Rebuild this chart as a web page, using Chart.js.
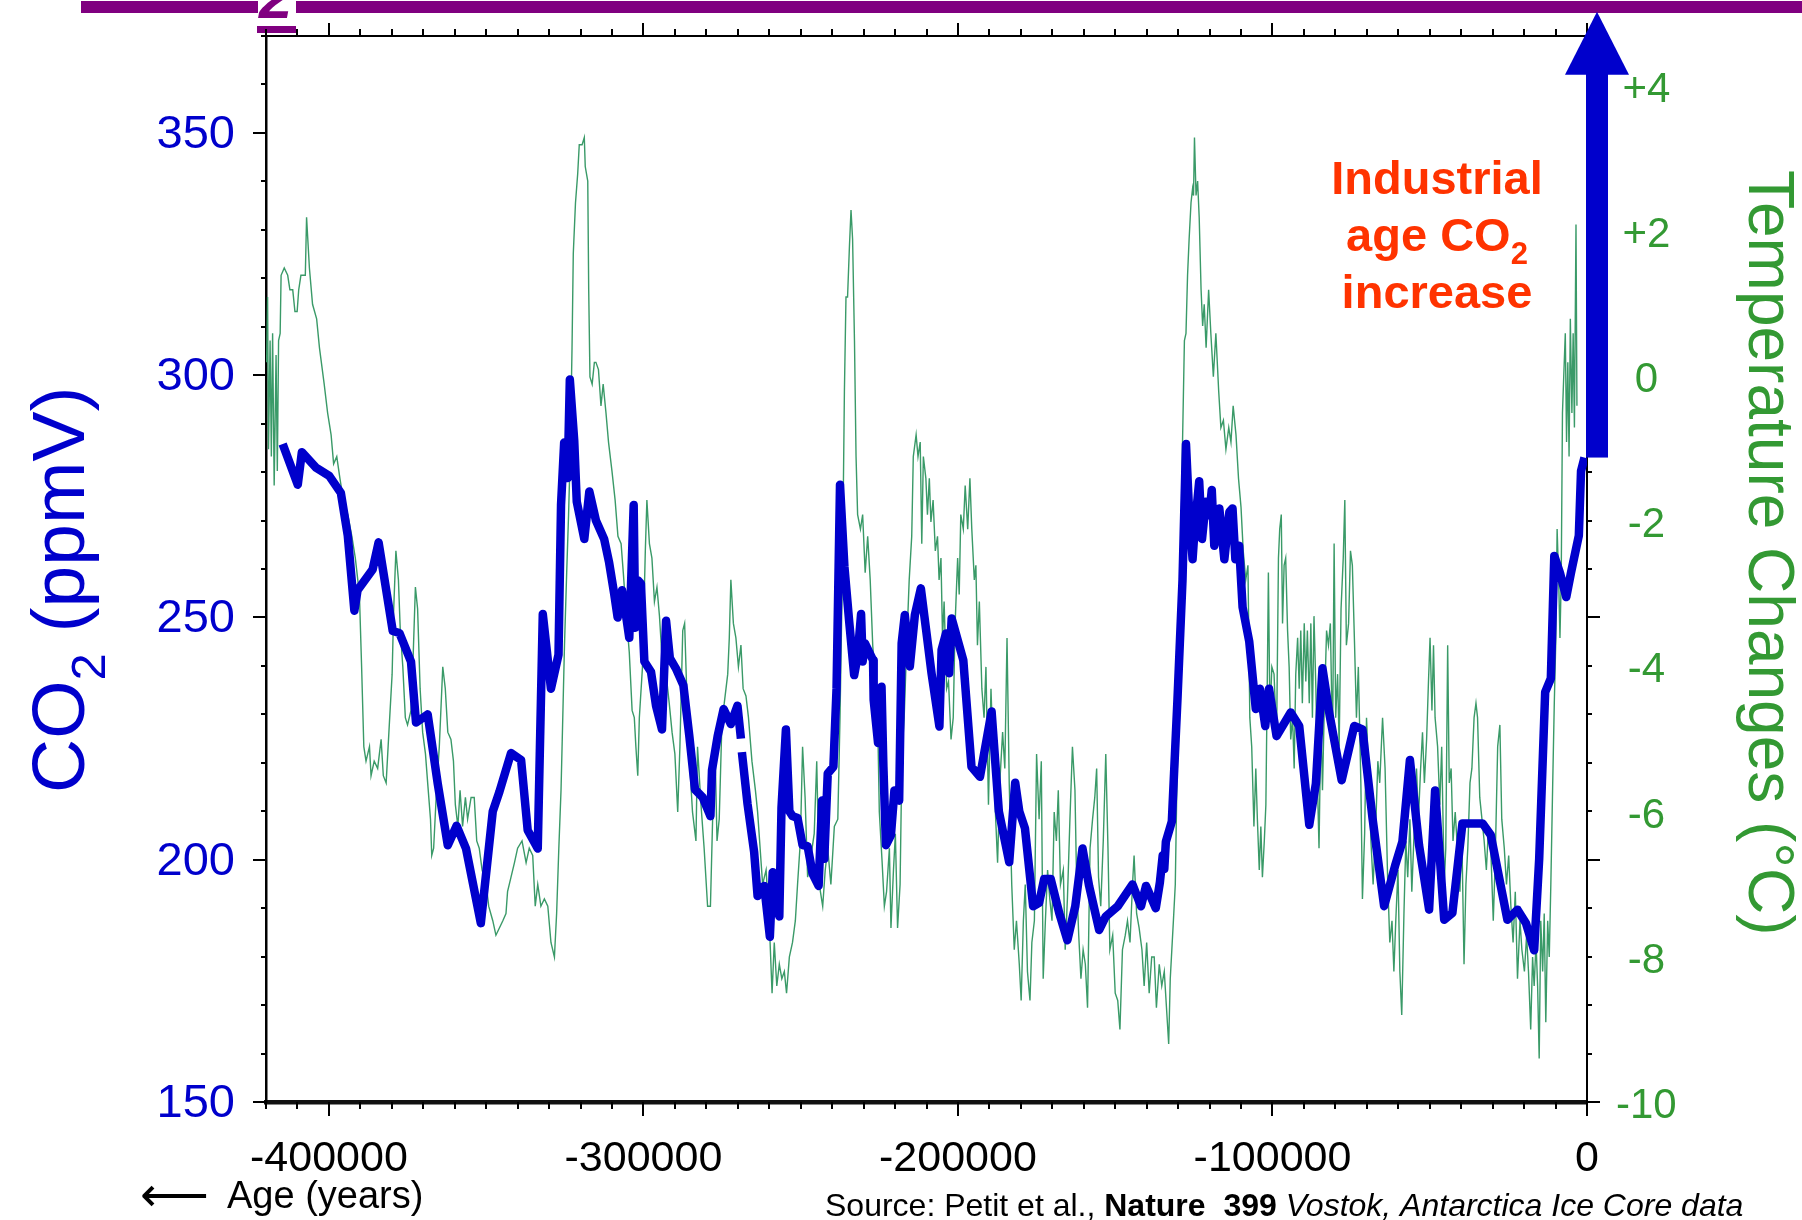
<!DOCTYPE html>
<html>
<head>
<meta charset="utf-8">
<title>Vostok CO2 and temperature</title>
<script src="https://cdn.jsdelivr.net/npm/chart.js@4.4.1/dist/chart.umd.min.js"></script>
<style>
  html, body { margin: 0; padding: 0; background: #fff; }
  canvas { display: block; }
</style>
</head>
<body>
<canvas id="myChart" width="1802" height="1220"></canvas>
<script>
// CO2 (ppmV), null = small break in the line
const co2Years = [
  -414700, -409900, -408600, -404100, -399900, -396200, -394000, -391900, -390900, -386100,
  -384200, -379700, -377600, -373900, -372300, -368600, -365400, -362200, -359400, -356400,
  -351700, -347900, -345800, -342100, -338900, -336800, -333600, -332000, -329400, -327000,
  -326200, -325200, -324100, -323400, -322000, -321200, -318800, -317200, -315100, -312500,
  -310900, -309300, -308200, -306800, -305600, -304500, -303100, -302600, -301800, -300800,
  -299700, -297600, -296000, -294100, -292800, -291600, -289700, -287300, -285400, -283600,
  -281200, -278700, -278200, -276400, -274500, -272200, -270100, -269000, -268850, -268700,
  -266900, -264800, -263700, -261600, -259800, -258900, -256800, -256100, -254700, -253600,
  -252600, -251000, -249400, -247800, -246200, -244300, -243200, -242500, -241400, -239600,
  -238600, -237500, -236100, -234600, -233000, -231900, -230800, -230300, -229600, -227000,
  -226800, -225400, -224300, -223700, -222900, -221300, -220200, -218700, -217900, -216900,
  -215300, -213700, -211800, -210000, -208400, -205900, -205200, -203800, -202800, -202000,
  -198300, -195700, -193000, -189300, -187000, -183700, -181800, -180500, -178700, -176100,
  -174200, -172600, -170500, -167800, -165200, -162700, -160400, -158300, -155100, -153000,
  -149200, -144500, -141800, -140200, -137100, -135800, -134900, -134400, -133900, -132000,
  -130200, -128600, -127500, -126500, -125400, -124600, -123800, -123300, -122400, -121200,
  -120100, -119300, -118500, -116900, -115300, -113700, -112700, -111800, -110600, -109500,
  -107400, -105300, -104000, -102300, -101100, -98700, -94200, -91500, -88300, -86200,
  -84100, -81800, -78000, -74000, -71400, -68200, -64500, -61000, -58700, -56300,
  -53400, -50200, -48300, -45400, -42800, -39600, -33200, -30600, -25300, -22100,
  -19400, -16800, -15200, -13300, -11500, -10400, -8600, -6600, -5100, -2600,
  -1900, -800
];
const co2Values = [
  285.8, 277.4, 284.1, 280.9, 279.2, 275.7, 266.9, 251.4, 255.6, 259.9,
  265.5, 247.2, 246.8, 240.9, 228.3, 230.0, 215.7, 203.0, 207.0, 202.3,
  186.9, 210.0, 214.0, 222.0, 220.6, 206.1, 202.3, 250.7, 235.3, 242.3,
  273.2, 286.1, 278.8, 299.1, 286.5, 273.9, 266.2, 276.0, 270.0, 266.2,
  261.3, 254.9, 250.0, 255.6, 250.7, 245.8, 273.2, 247.9, 257.7, 257.0,
  240.9, 238.8, 231.8, 226.9, 249.3, 241.6, 239.5, 236.0, 225.5, 214.5,
  212.9, 209.0, 218.5, 225.5, 231.1, 228.0, 231.8, 225.0, null, 222.2,
  211.5, 201.6, 192.5, 194.6, 184.1, 197.4, 188.3, 210.8, 226.9, 210.0,
  209.0, 208.6, 203.0, 202.8, 197.1, 194.6, 212.2, 200.2, 217.8, 219.2,
  235.3, 277.4, 260.5, 249.3, 238.1, 242.0, 250.7, 240.9, 244.7, 241.2,
  233.0, 224.1, 235.7, 219.2, 203.0, 205.1, 214.3, 212.2, 244.7, 250.5,
  239.9, 250.5, 256.0, 246.8, 238.5, 227.5, 243.3, 246.7, 238.5, 249.8,
  241.2, 219.2, 217.1, 230.6, 210.0, 199.5, 215.9, 210.0, 206.5, 190.4,
  191.1, 196.0, 196.0, 189.0, 183.4, 190.4, 202.3, 194.6, 185.5, 188.3,
  190.4, 194.9, 190.4, 194.6, 190.0, 195.3, 200.9, 198.1, 203.7, 207.9,
  233.2, 257.8, 285.8, 271.8, 262.0, 269.7, 274.6, 278.1, 266.2, 273.9,
  271.1, 276.3, 264.8, 272.5, 262.0, 271.8, 272.5, 262.0, 264.8, 252.1,
  245.1, 231.1, 235.3, 227.6, 235.3, 225.5, 230.4, 227.6, 207.2, 215.7,
  239.5, 229.7, 216.4, 227.6, 226.9, 208.6, 190.4, 198.8, 203.7, 220.6,
  203.0, 189.7, 214.3, 187.6, 189.0, 207.5, 207.5, 205.1, 187.6, 189.7,
  186.9, 181.3, 200.2, 234.6, 237.4, 262.7, 259.2, 254.2, 259.2, 266.9,
  280.2, 283.0
];

// temperature change (deg C)
const tempYears = [
  -419800, -419500, -419200, -418700, -418300, -417900, -417400, -416800, -416400, -416000,
  -415500, -415200, -414200, -413100, -412400, -411500, -410800, -410100, -409600, -408900,
  -408100, -407500, -407100, -406200, -405200, -403900, -403000, -401500, -400400, -399300,
  -398500, -397500, -396500, -395400, -394000, -392700, -391600, -390300, -389600, -388900,
  -388200, -387100, -386600, -385600, -384500, -383400, -382700, -381800, -380800, -379900,
  -379400, -378700, -377900, -377300, -376500, -375700, -375000, -373900, -373400, -372500,
  -371800, -371000, -370200, -369300, -368600, -367700, -367300, -366700, -365900, -364900,
  -363800, -363000, -362200, -361200, -360400, -359800, -359000, -358300, -357500, -356600,
  -355900, -354800, -353800, -353000, -352200, -351300, -350000, -349200, -347900, -346900,
  -345800, -344700, -343700, -343200, -342100, -341000, -340000, -338600, -337300, -336300,
  -335200, -334400, -333600, -332600, -331500, -330400, -329400, -328300, -327600, -326900,
  -326200, -325700, -325100, -324400, -323800, -323300, -322700, -322300, -321600, -320900,
  -320400, -319500, -318800, -318500, -317700, -317400, -317000, -316300, -315600, -315100,
  -314300, -313500, -312800, -311900, -311100, -310000, -309000, -308100, -307100, -306400,
  -305600, -304500, -303600, -302900, -302400, -301800, -301300, -300300, -299400, -298900,
  -298100, -297300, -296500, -295700, -294900, -293900, -292800, -291800, -290900, -290000,
  -289100, -288400, -287500, -286900, -285900, -285200, -284400, -283300, -282800, -281700,
  -280700, -279600, -278700, -278000, -277300, -276600, -275900, -275000, -274300, -273200,
  -272700, -272200, -271400, -270600, -269800, -269000, -268300, -267400, -266600, -265500,
  -264400, -263700, -262900, -262100, -261000, -260000, -259100, -258400, -257600, -256800,
  -256000, -255200, -254500, -253600, -252600, -251700, -251000, -250100, -249400, -248600,
  -247800, -246700, -245700, -244900, -244100, -243000, -242200, -241400, -240400, -239300,
  -238200, -237500, -236700, -236100, -235600, -235100, -234500, -234000, -233500, -232900,
  -232400, -231900, -231000, -230300, -229500, -228700, -227900, -227100, -226300, -225500,
  -225000, -224100, -223400, -222700, -221800, -221300, -220500, -219900, -219200, -218400,
  -217800, -217100, -216300, -215500, -214700, -214200, -213300, -212700, -212000, -211500,
  -211000, -210200, -209700, -209100, -208600, -207900, -207200, -206500, -206000, -205400,
  -204900, -204400, -203600, -203000, -202200, -201500, -200900, -200100, -199600, -199100,
  -198300, -197700, -196900, -196200, -195600, -194800, -194300, -193800, -193200, -192400,
  -191700, -191100, -190300, -189500, -188800, -188000, -187400, -186700, -185800, -185100,
  -184400, -183700, -182900, -182100, -181400, -180500, -179900, -179200, -178600, -177900,
  -177100, -176500, -175700, -175000, -174200, -173500, -172900, -172200, -171500, -170800,
  -170100, -169400, -168700, -168100, -167400, -166500, -165900, -165200, -164400, -163600,
  -162800, -162300, -161600, -160900, -160200, -159500, -158800, -158000, -157200, -156500,
  -155900, -155300, -154600, -153800, -153000, -152300, -151700, -150800, -150000, -149200,
  -148500, -147700, -146800, -146100, -145300, -144500, -144000, -143200, -142400, -141500,
  -140800, -140000, -139200, -138400, -137600, -136900, -136000, -135200, -134400, -133700,
  -133000, -132500, -132000, -131500, -130900, -130500, -130100, -129600, -129100, -128600,
  -128000, -127500, -127000, -126500, -125900, -125400, -125100, -124800, -124300, -123800,
  -123300, -122700, -122200, -121700, -121100, -120300, -119600, -118800, -118000, -117100,
  -116400, -115600, -114800, -113900, -113200, -112500, -111600, -110800, -110000, -109300,
  -108500, -107800, -107200, -106600, -105900, -105300, -104800, -104200, -103700, -103200,
  -102600, -102100, -101600, -101300, -100800, -100200, -99500, -98700, -98100, -97700,
  -97200, -96800, -96300, -95800, -95200, -94700, -94200, -93600, -93100, -92600,
  -92000, -91500, -91000, -90500, -89900, -89400, -88900, -88300, -87800, -87300,
  -86800, -86200, -85700, -85200, -84600, -84100, -83600, -82800, -82200, -81600,
  -80900, -80400, -79900, -79300, -78800, -78200, -77500, -77000, -76500, -75800,
  -75200, -74600, -73900, -73300, -72700, -71900, -71400, -70700, -70100, -69500,
  -68700, -68000, -67100, -66500, -65900, -65000, -64200, -63400, -62700, -62000,
  -61400, -60800, -60100, -59500, -58900, -58200, -57600, -57000, -56300, -55700,
  -54900, -54200, -53600, -52900, -52300, -51700, -51000, -50400, -49900, -49300,
  -48800, -48300, -47500, -46800, -46200, -45400, -44900, -44300, -43800, -43200,
  -42600, -41900, -41200, -40400, -39800, -39100, -38500, -37900, -37200, -36600,
  -35900, -35300, -34800, -34100, -33400, -32700, -32000, -31300, -30600, -29800,
  -29200, -28400, -27700, -27100, -26300, -25600, -24900, -24200, -23500, -22800,
  -22100, -21300, -20700, -19900, -19200, -18600, -17900, -17300, -16800, -16200,
  -15700, -15200, -14700, -14100, -13600, -13100, -12500, -12000, -11500, -10900,
  -10400, -9900, -9500, -9000, -8600, -8200, -7800, -7400, -6900, -6500,
  -6100, -5700, -5300, -4800, -4400, -4000, -3500, -3200
];
const tempValues = [
  0.2, 1.1, -1.0, 0.5, -1.1, 0.6, -1.5, 0.3, -1.3, 0.5,
  0.6, 1.4, 1.5, 1.4, 1.2, 1.2, 0.9, 0.9, 1.2, 1.4,
  1.4, 1.4, 2.2, 1.5, 1.0, 0.8, 0.4, -0.1, -0.5, -0.8,
  -1.2, -1.1, -1.4, -1.7, -1.9, -2.2, -2.5, -3.0, -4.0, -5.1,
  -5.3, -5.1, -5.5, -5.3, -5.4, -5.0, -5.5, -5.6, -4.8, -4.1,
  -3.2, -2.4, -2.8, -3.5, -4.0, -4.7, -4.8, -4.6, -4.1, -2.9,
  -3.2, -4.3, -4.9, -5.2, -5.6, -6.1, -6.6, -6.5, -5.8, -5.1,
  -4.0, -4.3, -4.9, -5.0, -5.3, -5.9, -6.2, -5.7, -6.2, -5.8,
  -6.1, -5.8, -5.8, -6.4, -6.5, -6.8, -7.0, -7.3, -7.5, -7.7,
  -7.6, -7.5, -7.4, -7.1, -6.9, -6.7, -6.5, -6.4, -6.7, -6.5,
  -6.6, -7.3, -7.0, -7.3, -7.2, -7.3, -7.8, -8.0, -7.4, -6.5,
  -5.7, -4.8, -3.7, -2.7, -1.9, -1.1, 0.4, 1.7, 2.4, 2.8,
  3.2, 3.2, 3.3, 2.9, 2.7, 1.2, 0.0, -0.1, 0.2, 0.2,
  0.1, -0.4, -0.1, -0.5, -0.9, -1.3, -1.7, -2.2, -2.3, -2.7,
  -3.2, -3.8, -4.6, -4.7, -5.1, -5.5, -4.7, -4.0, -2.4, -1.7,
  -2.3, -2.5, -3.1, -2.9, -3.3, -4.0, -4.1, -4.5, -4.9, -5.2,
  -6.0, -5.1, -3.5, -3.4, -4.8, -5.4, -6.0, -6.4, -5.1, -5.9,
  -6.5, -7.3, -7.3, -6.1, -5.0, -6.4, -6.1, -4.7, -4.5, -4.1,
  -3.6, -2.8, -3.4, -3.6, -4.0, -3.7, -4.3, -4.4, -4.7, -5.3,
  -5.7, -6.0, -6.5, -7.0, -6.8, -7.5, -8.5, -7.8, -8.4, -8.1,
  -8.3, -8.2, -8.5, -8.0, -7.8, -7.5, -7.0, -6.4, -5.1, -5.8,
  -6.9, -6.6, -6.3, -5.3, -7.0, -7.3, -6.8, -6.5, -7.0, -6.2,
  -6.1, -4.7, -2.6, -0.2, 1.1, 1.1, 1.8, 2.3, 1.9, 0.5,
  -1.1, -1.9, -2.1, -1.9, -2.7, -2.2, -2.8, -3.7, -4.2, -4.8,
  -6.0, -6.7, -7.3, -7.1, -6.5, -7.6, -6.8, -6.3, -7.6, -7.0,
  -5.2, -4.7, -3.7, -2.8, -2.2, -1.1, -0.8, -1.1, -0.9, -2.3,
  -1.1, -1.4, -1.9, -1.4, -2.0, -1.7, -2.4, -2.2, -2.8, -2.5,
  -3.6, -3.1, -4.3, -4.2, -5.0, -4.7, -3.4, -2.5, -3.0, -1.9,
  -2.1, -1.5, -2.1, -1.4, -2.1, -2.8, -2.6, -3.7, -3.1, -4.3,
  -4.7, -4.0, -5.9, -4.3, -5.2, -6.1, -6.7, -5.6, -4.9, -5.4,
  -3.6, -5.6, -7.0, -7.9, -7.5, -8.1, -8.6, -7.5, -7.0, -8.2,
  -8.6, -7.8, -7.5, -5.2, -6.1, -5.3, -8.3, -7.5, -6.8, -7.2,
  -7.5, -6.0, -6.4, -5.7, -7.0, -6.8, -7.9, -7.2, -6.1, -5.1,
  -5.7, -6.9, -7.7, -8.3, -7.9, -8.1, -8.7, -6.5, -6.1, -5.8,
  -5.4, -6.9, -7.3, -6.4, -5.2, -6.5, -7.9, -7.7, -8.5, -8.6,
  -9.0, -7.9, -7.7, -7.5, -7.8, -7.0, -6.6, -7.4, -7.6, -7.9,
  -8.4, -7.8, -8.5, -8.0, -8.0, -8.7, -8.1, -8.4, -8.2, -8.7,
  -9.2, -8.3, -7.9, -7.5, -7.0, -5.9, -5.1, -3.7, -2.4, -0.9,
  0.5, 0.6, 1.4, 1.9, 2.4, 2.6, 2.5, 3.3, 2.5, 2.7,
  2.2, 1.2, 0.7, 1.0, 0.4, 1.2, 0.6, 0.0, 0.6, -0.2,
  -0.7, -0.6, -1.0, -0.7, -0.9, -0.4, -0.8, -1.4, -1.8, -2.4,
  -2.8, -2.6, -4.7, -5.1, -6.2, -5.4, -6.1, -6.8, -6.2, -6.9,
  -6.4, -5.9, -4.0, -2.7, -4.7, -4.0, -4.1, -5.0, -2.5, -2.1,
  -1.9, -3.4, -2.6, -2.5, -3.5, -4.0, -5.0, -4.7, -5.4, -4.1,
  -3.6, -4.3, -3.5, -4.5, -3.4, -4.2, -3.5, -4.5, -3.4, -4.7,
  -3.3, -4.3, -5.6, -6.5, -4.7, -5.7, -4.7, -3.5, -3.7, -3.4,
  -5.1, -2.3, -4.7, -4.1, -5.1, -3.2, -2.5, -1.7, -3.7, -3.4,
  -2.4, -2.6, -3.7, -4.7, -4.0, -5.6, -7.2, -6.3, -4.7, -5.4,
  -6.4, -7.0, -6.1, -5.3, -5.6, -4.7, -5.4, -6.9, -7.8, -7.5,
  -8.2, -7.5, -6.8, -8.2, -8.8, -7.4, -6.4, -6.9, -6.1, -7.1,
  -6.2, -5.4, -6.1, -5.4, -4.9, -5.6, -5.0, -4.2, -3.6, -4.6,
  -3.7, -4.7, -5.1, -5.9, -5.1, -7.0, -6.5, -3.7, -5.6, -5.4,
  -6.4, -6.0, -6.5, -7.1, -6.3, -8.1, -7.0, -6.5, -5.6, -5.4,
  -4.7, -4.5, -4.7, -5.8, -6.1, -6.4, -6.8, -6.2, -6.5, -7.5,
  -6.7, -5.1, -4.8, -6.1, -6.5, -7.0, -6.6, -7.3, -7.8, -7.1,
  -8.3, -7.5, -7.9, -8.2, -7.7, -8.2, -9.0, -8.0, -8.4, -7.8,
  -8.4, -9.4, -7.5, -8.2, -7.4, -8.9, -7.5, -8.0, -7.0, -5.6,
  -4.5, -3.6, -2.1, -2.8, -3.6, -2.8, -0.5, 0.0, 0.6, -0.9,
  0.2, -1.1, 0.8, -0.5, 0.6, -0.7, 2.1, -0.4
];

const xTickValues = [-400000, -300000, -200000, -100000, 0];
const co2TickValues = [150, 200, 250, 300, 350];
const tempTickValues = [-10, -8, -6, -4, -2, 0, 2, 4];

const BLUE = "#0000cc";
const GREEN = "#339933";
const FONT = "'Liberation Sans', Arial, Helvetica, sans-serif";

Chart.defaults.font.family = FONT;

// text with a lowered "2" after the main part
function drawSubscripted(ctx, main, sub, rest, x, y, size, weight) {
  ctx.font = `${weight} ${size}px ${FONT}`;
  ctx.fillText(main, x, y);
  let w = ctx.measureText(main).width;
  ctx.font = `${weight} ${Math.round(size * 0.65)}px ${FONT}`;
  ctx.fillText(sub, x + w, y + size * 0.28);
  w += ctx.measureText(sub).width;
  if (rest) {
    ctx.font = `${weight} ${size}px ${FONT}`;
    ctx.fillText(rest, x + w, y);
  }
}

// keep the plot box where it is: no extra room for half tick labels
function noLabelPadding(s) {
  s.paddingTop = 0;
  s.paddingBottom = 0;
}

const decorations = {
  id: "decorations",
  beforeDraw(chart) {
    const ctx = chart.ctx;
    ctx.save();
    ctx.fillStyle = "#fff";
    ctx.fillRect(0, 0, chart.width, chart.height);
    // bottom of the cut-off slide title
    ctx.fillStyle = "#800080";
    ctx.fillRect(81, 1, 177, 12);
    ctx.fillRect(296, 1, chart.width - 296, 12);
    ctx.fillRect(257, 26, 39, 7);
    ctx.font = `bold italic 60px ${FONT}`;
    ctx.fillText("2", 259, 18);
    ctx.restore();
  },
  afterDraw(chart) {
    const { ctx, chartArea: a, scales } = chart;
    const x = scales.x;
    const y = scales.y;
    ctx.save();

    // frame top line
    ctx.strokeStyle = "#000";
    ctx.lineWidth = 2;
    ctx.beginPath();
    ctx.moveTo(a.left - 1, a.top);
    ctx.lineTo(a.right + 1, a.top);
    ctx.stroke();

    // x ticks, bottom and top
    ctx.beginPath();
    for (let v = x.min; v <= x.max; v += 10000) {
      const px = Math.round(x.getPixelForValue(v));
      const major = v % 100000 === 0;
      ctx.moveTo(px, a.bottom);
      ctx.lineTo(px, a.bottom + (major ? 14 : 7));
      ctx.moveTo(px, a.top);
      ctx.lineTo(px, a.top - (major ? 13 : 7));
    }
    // CO2 ticks, left and right
    for (let v = y.min; v <= y.max; v += 10) {
      const py = Math.round(y.getPixelForValue(v));
      const major = v % 50 === 0;
      ctx.moveTo(a.left, py);
      ctx.lineTo(a.left - (major ? 13 : 5), py);
      ctx.moveTo(a.right, py);
      ctx.lineTo(a.right + (major ? 13 : 5), py);
    }
    ctx.stroke();

    // industrial age arrow
    const ax = x.getPixelForValue(0) + 10;
    const yBottom = y.getPixelForValue(283);
    const yBase = y.getPixelForValue(362);
    const yTip = y.getPixelForValue(375);
    ctx.fillStyle = BLUE;
    ctx.fillRect(ax - 11, yBase - 1, 22, yBottom - yBase + 1);
    ctx.beginPath();
    ctx.moveTo(ax, yTip);
    ctx.lineTo(ax + 32, yBase);
    ctx.lineTo(ax - 32, yBase);
    ctx.closePath();
    ctx.fill();

    // annotation
    ctx.fillStyle = "#ff3300";
    ctx.textBaseline = "alphabetic";
    ctx.textAlign = "center";
    ctx.font = `bold 47px ${FONT}`;
    ctx.fillText("Industrial", 1437, 194);
    ctx.fillText("increase", 1437, 308);
    ctx.textAlign = "left";
    ctx.font = `bold 47px ${FONT}`;
    const w1 = ctx.measureText("age CO").width;
    ctx.font = `bold 31px ${FONT}`;
    const w2 = ctx.measureText("2").width;
    drawSubscripted(ctx, "age CO", "2", "", 1437 - (w1 + w2) / 2, 251, 47, "bold");

    // left axis title
    ctx.fillStyle = BLUE;
    ctx.save();
    ctx.translate(84, 793);
    ctx.rotate(-Math.PI / 2);
    drawSubscripted(ctx, "CO", "2", " (ppmV)", 0, 0, 75, "normal");
    ctx.restore();

    // right axis title
    ctx.fillStyle = GREEN;
    ctx.save();
    ctx.translate(1749, 170);
    ctx.rotate(Math.PI / 2);
    ctx.font = `64px ${FONT}`;
    ctx.fillText("Temperature Changes (\u00B0C)", 0, 0);
    ctx.restore();

    // age label
    ctx.fillStyle = "#000";
    ctx.font = "48px 'DejaVu Sans', sans-serif";
    ctx.fillText("\u27F5", 140, 1211);
    ctx.font = `38px ${FONT}`;
    ctx.fillText("Age (years)", 227, 1208);

    // source line
    let sx = 825;
    const runs = [
      ["normal", "Source: Petit et al., "],
      ["bold", "Nature  399 "],
      ["italic", "Vostok, Antarctica Ice Core data"]
    ];
    runs.forEach(([style, text]) => {
      ctx.font = `${style} 32px ${FONT}`;
      ctx.fillText(text, sx, 1216);
      sx += ctx.measureText(text).width;
    });

    ctx.restore();
  }
};

const co2Points = co2Years.map((yr, i) => ({ x: yr, y: co2Values[i] }));
const tempPoints = tempYears.map((yr, i) => ({ x: yr, y: tempValues[i] }));

const ctx = document.getElementById("myChart");
window.myChart = new Chart(ctx, {
  type: "line",
  data: {
    datasets: [
      {
        label: "CO2",
        data: co2Points,
        yAxisID: "y",
        borderColor: BLUE,
        borderWidth: 8.5,
        borderJoinStyle: "round",
        borderCapStyle: "butt",
        pointRadius: 0,
        tension: 0,
        spanGaps: false,
      },
      {
        label: "Temperature",
        data: tempPoints,
        yAxisID: "y2",
        borderColor: "#3a9a68",
        borderWidth: 1.4,
        pointRadius: 0,
        tension: 0,
      },
    ],
  },
  options: {
    responsive: false,
    animation: false,
    devicePixelRatio: 1,
    layout: { padding: { top: 36, left: 0, right: 0, bottom: 0 } },
    plugins: { legend: { display: false }, tooltip: { enabled: false } },
    scales: {
      x: {
        type: "linear",
        position: "bottom",
        min: -420000,
        max: 0,
        afterBuildTicks: (s) => { s.ticks = xTickValues.map((v) => ({ value: v })); },
        afterFit: (s) => { s.height = 118; },
        ticks: {
          autoSkip: false,
          maxRotation: 0,
          padding: 31,
          color: "#000",
          font: { size: 43 },
          callback: (v) => String(v),
        },
        grid: { display: false, drawTicks: false },
        border: { display: true, color: "#111", width: 4.5 },
      },
      y: {
        position: "left",
        min: 150,
        max: 370,
        afterBuildTicks: (s) => { s.ticks = co2TickValues.map((v) => ({ value: v })); },
        afterFit: (s) => { s.width = 266; noLabelPadding(s); },
        ticks: { padding: 31, labelOffset: 2, color: BLUE, font: { size: 47 } },
        grid: { display: false, drawTicks: false },
        border: { display: true, color: "#000", width: 2.5 },
      },
      y2: {
        position: "right",
        min: -10,
        max: 4.7,
        afterBuildTicks: (s) => { s.ticks = tempTickValues.map((v) => ({ value: v })); },
        afterFit: (s) => { s.width = 215; noLabelPadding(s); },
        ticks: {
          padding: 29,
          labelOffset: 4,
          crossAlign: "center",
          color: GREEN,
          font: { size: 42 },
          callback: (v) => (v > 0 ? "+" + v : String(v)),
        },
        grid: { display: false, drawTicks: false },
        border: { display: true, color: "#000", width: 2 },
      },
    },
  },
  plugins: [decorations],
});
</script>
</body>
</html>
